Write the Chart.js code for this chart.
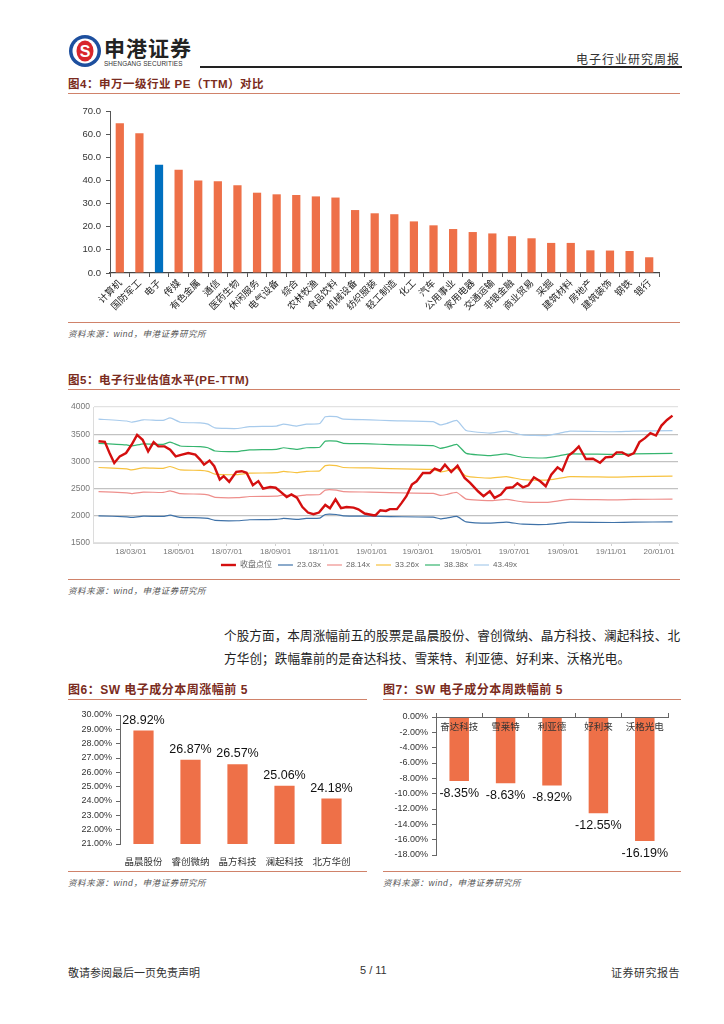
<!DOCTYPE html>
<html><head><meta charset="utf-8">
<script src="https://cdn.jsdelivr.net/npm/chart.js@4.4.0/dist/chart.umd.min.js"></script>
<style>
body{margin:0;background:#fff;width:724px;height:1024px;position:relative;overflow:hidden;font-family:"Liberation Sans","Noto Sans CJK SC",sans-serif;}
.t{position:absolute;white-space:nowrap;}
.title{position:absolute;font-size:11.5px;font-weight:bold;color:#7a2b20;letter-spacing:0.5px;line-height:14px;white-space:nowrap;font-family:"Liberation Sans","Noto Sans CJK SC",sans-serif;}
.rule{position:absolute;height:0;border-top:1.5px solid #d0826a;}
.src{position:absolute;font-size:8.5px;font-style:italic;color:#555;letter-spacing:0.6px;white-space:nowrap;font-family:"Liberation Sans","Noto Sans CJK SC",sans-serif;}
.box{position:absolute;}
.para{position:absolute;left:224px;width:456px;font-size:12.6px;color:#222;font-family:"Noto Sans CJK SC",sans-serif;line-height:16px;}
.just{text-align:justify;text-align-last:justify;}
</style></head><body>

<!-- header -->
<svg class="t" style="left:67px;top:33px" width="36" height="36" viewBox="0 0 36 36">
  <circle cx="18" cy="18" r="16" fill="#1d4f9e"/>
  <circle cx="18" cy="18" r="12.5" fill="#fff"/>
  <ellipse cx="18" cy="18" rx="8.5" ry="10.5" fill="#d8262b"/>
  <text x="18" y="24" text-anchor="middle" font-size="16" font-weight="bold" fill="#fff" font-family="Liberation Sans">S</text>
</svg>
<div class="t" style="left:104px;top:34px;font-size:21px;font-weight:bold;color:#222;letter-spacing:1px;font-family:'Noto Sans CJK SC';line-height:26px;">申港证券</div>
<div class="t" style="left:104px;top:60px;font-size:6.4px;color:#333;letter-spacing:0.1px;">SHENGANG SECURITIES</div>
<div class="t" style="left:200px;top:66px;width:482px;height:0;border-top:2px solid #222;"></div>
<div class="t" style="right:44px;top:50px;font-size:12px;color:#333;letter-spacing:1px;font-family:'Noto Sans CJK SC';">电子行业研究周报</div>

<!-- Fig 4 -->
<div class="title" style="left:68px;top:77px;">图4：申万一级行业 PE（TTM）对比</div>
<div class="rule" style="left:68px;top:93px;width:612px;"></div>
<div class="box" style="left:60px;top:100px;width:640px;height:222px;"><canvas id="c1"></canvas></div>
<div class="rule" style="left:68px;top:322px;width:612px;"></div>
<div class="src" style="left:68px;top:327px;">资料来源：wind，申港证券研究所</div>

<!-- Fig 5 -->
<div class="title" style="left:68px;top:373px;">图5：电子行业估值水平(PE-TTM)</div>
<div class="rule" style="left:68px;top:389px;width:612px;"></div>
<div class="box" style="left:60px;top:395px;width:640px;height:184px;"><canvas id="c2"></canvas></div>
<div class="rule" style="left:68px;top:579px;width:612px;"></div>
<div class="src" style="left:68px;top:584px;">资料来源：wind，申港证券研究所</div>

<!-- paragraph -->
<div class="para just" style="top:627px;">个股方面，本周涨幅前五的股票是晶晨股份、睿创微纳、晶方科技、澜起科技、北</div>
<div class="para" style="top:650px;letter-spacing:0.1px;">方华创；跌幅靠前的是奋达科技、雪莱特、利亚德、好利来、沃格光电。</div>

<!-- Fig 6 -->
<div class="title" style="left:68px;top:683px;font-size:12px;">图6：SW 电子成分本周涨幅前 5</div>
<div class="rule" style="left:68px;top:699px;width:299px;"></div>
<div class="box" style="left:60px;top:703px;width:310px;height:166px;"><canvas id="c3"></canvas></div>
<div class="rule" style="left:68px;top:871px;width:299px;"></div>
<div class="src" style="left:68px;top:876px;">资料来源：wind，申港证券研究所</div>

<!-- Fig 7 -->
<div class="title" style="left:383px;top:683px;font-size:12px;">图7：SW 电子成分本周跌幅前 5</div>
<div class="rule" style="left:383px;top:699px;width:298px;"></div>
<div class="box" style="left:375px;top:703px;width:315px;height:166px;"><canvas id="c4"></canvas></div>
<div class="rule" style="left:383px;top:871px;width:298px;"></div>
<div class="src" style="left:383px;top:876px;">资料来源：wind，申港证券研究所</div>

<!-- footer -->
<div class="t" style="left:68px;top:964px;font-size:11px;color:#333;font-family:'Noto Sans CJK SC';">敬请参阅最后一页免责声明</div>
<div class="t" style="left:360px;top:964px;font-size:11px;color:#333;">5 / 11</div>
<div class="t" style="right:44px;top:964px;font-size:11px;color:#333;font-family:'Noto Sans CJK SC';letter-spacing:0.5px;">证券研究报告</div>

<script>
// ---------- Fig 4 data ----------
const peIndustries = ['计算机','国防军工','电子','传媒','有色金属','通信','医药生物','休闲服务','电气设备','综合','农林牧渔','食品饮料','机械设备','纺织服装','轻工制造','化工','汽车','公用事业','家用电器','交通运输','非银金融','商业贸易','采掘','建筑材料','房地产','建筑装饰','钢铁','银行'];
const peValues = [64.7,60.4,46.8,44.6,40.0,39.6,37.9,34.7,34.0,33.7,33.1,32.6,27.2,25.8,25.4,22.3,20.6,19.0,17.7,17.1,15.9,15.0,13.0,13.0,9.8,9.7,9.5,6.8];
const peHighlight = '电子';

// ---------- Fig 5 data (x = days since 2018-01-01) ----------
const closeLabel = '收盘点位';
const closeDays = [18,26,32,38,45,53,60,67,74,81,88,94,102,109,116,124,132,141,147,152,159,165,172,177,184,193,200,206,214,221,227,236,243,249,257,263,270,277,284,291,298,306,312,319,326,333,342,348,356,367,370,376,383,388,397,403,409,416,422,430,439,445,452,458,466,474,483,490,500,507,515,521,529,536,544,550,557,564,571,579,586,593,601,607,615,621,628,637,646,655,662,670,676,683,691,698,705,712,719,726,733,740,747];
const closeValues = [3370,3360,3155,2972,3093,3155,3306,3489,3398,3185,3356,3276,3276,3215,3093,3124,3155,3124,3033,2941,3015,2911,2668,2728,2625,2808,2820,2790,2564,2637,2498,2528,2516,2443,2345,2394,2333,2162,2060,2029,2060,2199,2139,2303,2139,2162,2150,2120,2042,2011,2011,2102,2090,2122,2122,2238,2360,2573,2634,2787,2787,2866,2829,2939,2805,2921,2695,2604,2451,2360,2451,2329,2390,2512,2524,2598,2524,2561,2707,2634,2543,2756,2890,2829,3110,3171,3274,3043,3049,2976,3073,3085,3165,3165,3104,3152,3354,3427,3518,3476,3659,3762,3841];
const bandDays = [18,54,60,75,100,109,122,147,157,166,194,210,244,253,270,282,299,306,320,329,363,388,443,452,460,473,485,515,536,557,587,604,617,672,697,747];
const band2303 = [2000,1982,1970,1994,1988,2012,1970,1963,1951,1915,1909,1927,1933,1951,1933,1951,1957,2024,2024,2000,1994,1985,1975,1944,1957,1988,1889,1864,1883,1846,1840,1864,1883,1877,1883,1889];
const band2814 = [2444,2422,2407,2436,2429,2458,2407,2399,2384,2340,2333,2355,2362,2384,2362,2384,2391,2473,2473,2444,2436,2425,2413,2375,2391,2429,2308,2278,2301,2256,2248,2278,2301,2293,2301,2308];
const band3326 = [2888,2862,2845,2880,2871,2906,2845,2835,2818,2766,2757,2783,2792,2818,2792,2818,2826,2923,2923,2888,2880,2867,2852,2808,2826,2871,2728,2692,2719,2666,2657,2692,2719,2711,2719,2728];
const band3838 = [3333,3303,3283,3323,3313,3353,3283,3271,3251,3191,3181,3211,3221,3251,3221,3251,3261,3373,3373,3333,3323,3308,3291,3240,3261,3313,3148,3106,3138,3076,3066,3106,3138,3128,3138,3148];
const band4349 = [3777,3743,3720,3765,3754,3800,3720,3707,3684,3616,3605,3639,3650,3684,3650,3684,3696,3822,3822,3777,3765,3748,3730,3671,3696,3754,3567,3520,3556,3486,3475,3520,3556,3545,3556,3567];
const bandLabels = ['23.03x','28.14x','33.26x','38.38x','43.49x'];
const tickDays = [59,120,181,243,304,365,424,485,546,608,669,730];
const tickLabels = ['18/03/01','18/05/01','18/07/01','18/09/01','18/11/01','19/01/01','19/03/01','19/05/01','19/07/01','19/09/01','19/11/01','20/01/01'];

// ---------- Fig 6 / Fig 7 data ----------
const gainNames = ['晶晨股份','睿创微纳','晶方科技','澜起科技','北方华创'];
const gainValues = [28.92,26.87,26.57,25.06,24.18];
const lossNames = ['奋达科技','雪莱特','利亚德','好利来','沃格光电'];
const lossValues = [-8.35,-8.63,-8.92,-12.55,-16.19];

Chart.defaults.font.family = '"Liberation Sans","Noto Sans CJK SC",sans-serif';
Chart.defaults.animation = false;
Chart.defaults.color = '#333';

const ORANGE = '#EE7048';
const CJK = '"Noto Sans CJK SC","Liberation Sans",sans-serif';

const valueLabels = {
  id: 'valueLabels',
  afterDatasetsDraw(chart, args, opts) {
    const ctx = chart.ctx;
    const meta = chart.getDatasetMeta(0);
    const data = chart.data.datasets[0].data;
    ctx.save();
    ctx.font = opts.font;
    ctx.fillStyle = '#111';
    ctx.textAlign = 'center';
    meta.data.forEach((el, i) => {
      const v = data[i];
      const txt = v.toFixed(2) + '%';
      if (v >= 0) { ctx.textBaseline = 'bottom'; ctx.fillText(txt, el.x, el.y - opts.offset); }
      else { ctx.textBaseline = 'top'; ctx.fillText(txt, el.x, el.y + opts.offset); }
    });
    ctx.restore();
  }
};

// ---------- Chart 1 ----------
new Chart(document.getElementById('c1'), {
  type: 'bar',
  data: {
    labels: peIndustries,
    datasets: [{
      data: peValues,
      backgroundColor: peIndustries.map(n => n === peHighlight ? '#0070C0' : ORANGE),
      categoryPercentage: 1, barPercentage: 0.42
    }]
  },
  options: {
    responsive: true, maintainAspectRatio: false,
    layout: { padding: { top: 11, right: 41, left: 0, bottom: 0 } },
    plugins: { legend: { display: false }, tooltip: { enabled: false } },
    scales: {
      x: {
        grid: { offset: true, drawOnChartArea: false, tickLength: 4, color: '#555' },
        border: { color: '#444', width: 1.2 },
        ticks: { minRotation: 45, maxRotation: 45, autoSkip: false, padding: 0, color: '#222', font: { family: CJK, size: 9.5 } },
        afterFit: s => { s.height = 49; }
      },
      y: {
        min: 0, max: 70,
        ticks: { stepSize: 10, callback: v => v.toFixed(1), color: '#333', font: { size: 9.5 }, padding: 5 },
        grid: { drawOnChartArea: false, tickLength: 4, color: '#555' },
        border: { color: '#555' },
        afterFit: s => { s.width = 50; }
      }
    }
  }
});

// ---------- Chart 2 ----------
const pts = (xs, ys) => xs.map((d, i) => ({ x: d, y: ys[i] }));
const bandColors = ['#3f72a8', '#ee8f8c', '#f7c23f', '#36b56f', '#a8cbec'];
const bandSeries = [band2303, band2814, band3326, band3838, band4349];
new Chart(document.getElementById('c2'), {
  type: 'line',
  data: {
    datasets: [
      { label: closeLabel, data: pts(closeDays, closeValues), borderColor: '#d40f0f', borderWidth: 2.4, pointRadius: 0, tension: 0 }
    ].concat(bandSeries.map((b, i) => ({
      label: bandLabels[i], data: pts(bandDays, b), borderColor: bandColors[i], borderWidth: 1.2, pointRadius: 0, tension: 0.15
    })))
  },
  options: {
    responsive: true, maintainAspectRatio: false,
    layout: { padding: { top: 12, right: 22, left: 0, bottom: 0 } },
    plugins: {
      tooltip: { enabled: false },
      legend: {
        position: 'bottom',
        labels: { usePointStyle: true, pointStyle: 'line', pointStyleWidth: 15, boxHeight: 8, color: '#666', font: { size: 8 }, padding: 6 }
      }
    },
    scales: {
      x: {
        type: 'linear', min: 11, max: 754,
        afterBuildTicks: s => { s.ticks = tickDays.map(v => ({ value: v })); },
        ticks: { callback: (v, i) => tickLabels[i], autoSkip: false, maxRotation: 0, color: '#777', font: { size: 8 }, padding: 1 },
        grid: { drawOnChartArea: false, tickLength: 3, color: '#d0d0d0' },
        border: { color: '#dcdcdc' },
        afterFit: s => { s.height = 12; }
      },
      y: {
        min: 1500, max: 4000,
        ticks: { stepSize: 500, callback: v => String(v), color: '#777', font: { size: 8.5 }, padding: 3 },
        grid: { color: c => (c.tick && (c.tick.value === 4000 || c.tick.value === 1500)) ? '#e2e2e2' : '#c2c2c2', drawTicks: false, lineWidth: 1.2 },
        border: { color: '#dcdcdc' },
        afterFit: s => { s.width = 33; }
      }
    }
  }
});

// ---------- Chart 3 ----------
new Chart(document.getElementById('c3'), {
  type: 'bar',
  data: { labels: gainNames, datasets: [{ data: gainValues, backgroundColor: ORANGE, categoryPercentage: 1, barPercentage: 0.43 }] },
  plugins: [valueLabels],
  options: {
    responsive: true, maintainAspectRatio: false,
    layout: { padding: { top: 12, right: 15, left: 0, bottom: 0 } },
    plugins: { legend: { display: false }, tooltip: { enabled: false }, valueLabels: { font: '12.5px "Liberation Sans"', offset: 4 } },
    scales: {
      x: {
        grid: { display: false }, border: { display: false },
        ticks: { color: '#333', font: { family: CJK, size: 9.5 }, padding: 4 },
        afterFit: s => { s.height = 25; }
      },
      y: {
        min: 21, max: 30,
        ticks: { stepSize: 1, callback: v => v.toFixed(2) + '%', color: '#333', font: { size: 9 }, padding: 4 },
        grid: { drawOnChartArea: false, tickLength: 4, color: '#666' },
        border: { color: '#666' },
        afterFit: s => { s.width = 60; }
      }
    }
  }
});

// ---------- Chart 4 ----------
new Chart(document.getElementById('c4'), {
  type: 'bar',
  data: { labels: lossNames, datasets: [{ data: lossValues, backgroundColor: ORANGE, categoryPercentage: 1, barPercentage: 0.42 }] },
  plugins: [valueLabels],
  options: {
    responsive: true, maintainAspectRatio: false,
    layout: { padding: { top: 10, right: 22, left: 0, bottom: 14 } },
    plugins: { legend: { display: false }, tooltip: { enabled: false }, valueLabels: { font: '12.5px "Liberation Sans"', offset: 6 } },
    scales: {
      x: {
        position: 'top',
        grid: { offset: true, drawOnChartArea: false, tickLength: 4, color: '#666', z: 1 },
        border: { color: '#666', z: 1 },
        ticks: { mirror: true, padding: 4, color: '#333', font: { family: CJK, size: 9.5 }, z: 1 },
        afterFit: s => { s.height = 4; }
      },
      y: {
        min: -18, max: 0,
        ticks: { stepSize: 2, callback: v => (v === 0 ? 0 : v).toFixed(2) + '%', color: '#333', font: { size: 9 }, padding: 4 },
        grid: { drawOnChartArea: false, tickLength: 4, color: '#666' },
        border: { color: '#666' },
        afterFit: s => { s.width = 61; }
      }
    }
  }
});
</script>
</body></html>
